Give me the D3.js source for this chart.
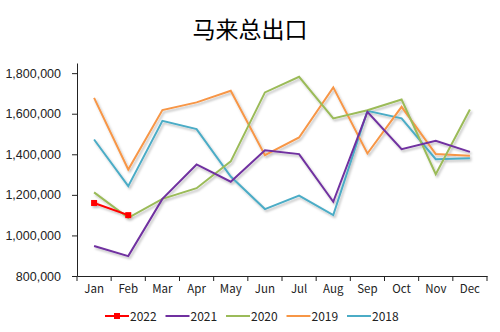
<!DOCTYPE html>
<html>
<head>
<meta charset="utf-8">
<script src="https://cdn.jsdelivr.net/npm/d3@7"></script>
<style>
  body { margin: 0; background: #fff; }
  text { font-family: "Noto Sans CJK SC", "Open Sans", sans-serif; }
</style>
</head>
<body>
<svg id="chart" width="500" height="332"></svg>
<script>
const months = ['Jan', 'Feb', 'Mar', 'Apr', 'May', 'Jun', 'Jul', 'Aug', 'Sep', 'Oct', 'Nov', 'Dec'];
const yTicks = [800000, 1000000, 1200000, 1400000, 1600000, 1800000];

const y2018 = [1473000, 1243000, 1565000, 1524000, 1290000, 1130000, 1196000, 1100000, 1614000, 1577000, 1376000, 1380000];
const y2019 = [1678000, 1325000, 1618000, 1656000, 1713000, 1396000, 1483000, 1730000, 1404000, 1634000, 1401000, 1393000];
const y2020 = [1212000, 1087000, 1180000, 1233000, 1365000, 1705000, 1782000, 1577000, 1617000, 1670000, 1302000, 1621000];
const y2021 = [948000, 898000, 1180000, 1350000, 1265000, 1420000, 1401000, 1166000, 1609000, 1425000, 1466000, 1412000];
const y2022 = [1160000, 1100000];

const series = [
    { key: '2018', values: y2018, color: '#4bacc6' },
    { key: '2019', values: y2019, color: '#f79646' },
    { key: '2020', values: y2020, color: '#9bbb59' },
    { key: '2021', values: y2021, color: '#7030a0' },
    { key: '2022', values: y2022, color: '#ff0000', marker: true }
];

const svg = d3.select('#chart');

const xScale = d3.scaleBand().domain(months).range([77, 487]);
const yScale = d3.scaleLinear().domain([800000, 1850000]).range([276, 63]);

// soft shadow under the lines
const defs = svg.append('defs');
const filter = defs.append('filter').attr('id', 'shadow')
    .attr('x', '-10%').attr('y', '-10%').attr('width', '120%').attr('height', '130%');
filter.append('feDropShadow')
    .attr('dx', 1.5).attr('dy', 2).attr('stdDeviation', 1.2)
    .attr('flood-color', '#000').attr('flood-opacity', 0.25);

// title
svg.append('text')
    .attr('x', 250).attr('y', 38)
    .attr('text-anchor', 'middle')
    .attr('font-size', 23)
    .attr('fill', '#000')
    .text('马来总出口');

// axes
const yAxis = d3.axisLeft(yScale).tickValues(yTicks).tickSize(5).tickSizeOuter(0)
    .tickFormat(d3.format(','));
const gy = svg.append('g').attr('transform', 'translate(77,0)').call(yAxis);
gy.select('.domain').attr('stroke', '#222');
gy.selectAll('.tick line').attr('stroke', '#222');
gy.selectAll('.tick text')
    .style('font-family', '"Liberation Sans", Arial, sans-serif')
    .attr('font-size', 12.5)
    .attr('fill', '#222')
    .attr('x', -16);

const xAxis = d3.axisBottom(xScale).tickSize(0).tickSizeOuter(0);
const gx = svg.append('g').attr('transform', 'translate(0,276)').call(xAxis);
gx.select('.domain').attr('stroke', '#222');
gx.selectAll('.tick text').attr('font-size', 11.5).attr('fill', '#222').attr('dy', '1.25em');
gx.selectAll('.bound')
    .data(months.map(m => xScale(m)).concat([xScale.range()[1]]))
    .enter()
    .append('line')
    .attr('class', 'bound')
    .attr('x1', d => d).attr('x2', d => d)
    .attr('y1', 0).attr('y2', 5)
    .attr('stroke', '#222');

// lines
const line = d3.line()
    .x((d, i) => xScale(months[i]) + xScale.bandwidth() / 2)
    .y(d => yScale(d));

const plot = svg.append('g').attr('filter', 'url(#shadow)');
plot.selectAll('.line')
    .data(series)
    .enter()
    .append('path')
    .attr('class', 'line')
    .attr('d', d => line(d.values))
    .attr('fill', 'none')
    .attr('stroke', d => d.color)
    .attr('stroke-width', 2);

const red = series[4];
plot.selectAll('.marker')
    .data(red.values)
    .enter()
    .append('rect')
    .attr('class', 'marker')
    .attr('x', (d, i) => xScale(months[i]) + xScale.bandwidth() / 2 - 3)
    .attr('y', d => yScale(d) - 3)
    .attr('width', 6).attr('height', 6)
    .attr('fill', red.color);

// legend
const legendItems = series.slice().reverse();
const legend = svg.append('g').attr('transform', 'translate(105,316)');
const item = legend.selectAll('.item')
    .data(legendItems)
    .enter()
    .append('g')
    .attr('class', 'item')
    .attr('transform', (d, i) => `translate(${i * 60.5},0)`);
item.append('line')
    .attr('x1', 0).attr('x2', 24).attr('y1', 0).attr('y2', 0)
    .attr('stroke', d => d.color).attr('stroke-width', 2);
item.filter(d => d.marker).append('rect')
    .attr('x', 9).attr('y', -3).attr('width', 6).attr('height', 6)
    .attr('fill', d => d.color);
item.append('text')
    .attr('x', 25).attr('y', 4.5)
    .attr('font-size', 12)
    .attr('fill', '#222')
    .text(d => d.key);
</script>
</body>
</html>
